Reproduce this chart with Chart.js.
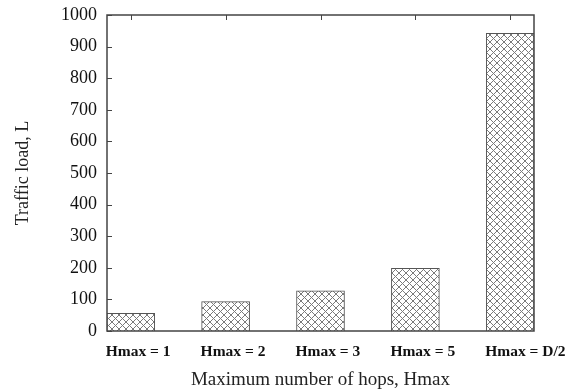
<!DOCTYPE html>
<html>
<head>
<meta charset="utf-8">
<script src="https://cdn.jsdelivr.net/npm/chart.js@4.4.0/dist/chart.umd.min.js"></script>
<style>
  html, body { margin: 0; padding: 0; background: #fff; }
  #wrap { width: 567px; height: 392px; }
</style>
</head>
<body>
<div id="wrap"><canvas id="loadChart"></canvas></div>
<script>
var hopLabels = ['Hmax = 1', 'Hmax = 2', 'Hmax = 3', 'Hmax = 5', 'Hmax = D/2'];
var trafficLoad = [56, 93, 127, 198, 942];
var yTicks = [0, 100, 200, 300, 400, 500, 600, 700, 800, 900, 1000];

var serif = '"Liberation Serif", "Times New Roman", serif';

function crossHatch() {
    var c = document.createElement('canvas');
    c.width = 7;
    c.height = 7;
    var g = c.getContext('2d');
    g.fillStyle = '#fff';
    g.fillRect(0, 0, 7, 7);
    g.strokeStyle = '#7a7a7a';
    g.lineWidth = 1;
    g.beginPath();
    g.moveTo(0, 0); g.lineTo(7, 7);
    g.moveTo(0, 7); g.lineTo(7, 0);
    g.moveTo(-1, 1); g.lineTo(1, -1);
    g.moveTo(6, 8); g.lineTo(8, 6);
    g.stroke();
    return g.createPattern(c, 'repeat');
}

// frame round the plot with small inward ticks, like the original
var frame = {
    id: 'frame',
    afterDraw: function (chart) {
        var ctx = chart.ctx;
        var a = chart.chartArea;
        var x = chart.scales.x, y = chart.scales.y;
        ctx.save();
        ctx.strokeStyle = '#444';
        ctx.lineWidth = 1.5;
        ctx.beginPath();
        ctx.rect(a.left, a.top, a.right - a.left, a.bottom - a.top);
        ctx.stroke();
        ctx.lineWidth = 1;
        ctx.beginPath();
        hopLabels.forEach(function (l, i) {
            var px = Math.round(x.getPixelForValue(i)) + 0.5;
            ctx.moveTo(px, a.top);
            ctx.lineTo(px, a.top + 5);
        });
        yTicks.forEach(function (v) {
            var py = Math.round(y.getPixelForValue(v)) + 0.5;
            ctx.moveTo(a.left, py);
            ctx.lineTo(a.left + 5, py);
        });
        ctx.stroke();
        ctx.restore();
    }
};

new Chart(document.getElementById('loadChart'), {
    type: 'bar',
    data: {
        datasets: [{
            data: trafficLoad.map(function (v, i) { return { x: i, y: v }; }),
            backgroundColor: crossHatch(),
            borderColor: '#555',
            borderWidth: 1,
            barThickness: 48
        }]
    },
    options: {
        responsive: true,
        maintainAspectRatio: false,
        animation: false,
        layout: { padding: { top: 15, right: 33, bottom: 0, left: 0 } },
        plugins: { legend: { display: false }, tooltip: { enabled: false } },
        scales: {
            x: {
                type: 'linear',
                min: -0.25,
                max: 4.25,
                offset: false,
                grid: { display: false },
                border: { display: false },
                afterBuildTicks: function (s) {
                    s.ticks = hopLabels.map(function (l, i) { return { value: i }; });
                },
                afterFit: function (s) {
                    s.height = 61;
                    s.paddingLeft = 0;
                    s.paddingRight = 0;
                },
                ticks: {
                    align: 'start',
                    labelOffset: -25,
                    padding: 4,
                    maxRotation: 0,
                    autoSkip: false,
                    color: '#111',
                    font: { family: serif, size: 15.5, weight: 'bold' },
                    callback: function (v) { return hopLabels[v]; }
                },
                title: {
                    display: true,
                    text: 'Maximum number of hops, Hmax',
                    color: '#222',
                    padding: { top: 0, bottom: 1 },
                    font: { family: serif, size: 19 }
                }
            },
            y: {
                min: 0,
                max: 1000,
                grid: { display: false, drawTicks: false },
                border: { display: false },
                afterBuildTicks: function (s) {
                    s.ticks = yTicks.map(function (v) { return { value: v }; });
                },
                afterFit: function (s) {
                    s.width = 107;
                    s.paddingTop = 0;
                    s.paddingBottom = 0;
                },
                ticks: {
                    padding: 10,
                    color: '#111',
                    font: { family: serif, size: 18 },
                    callback: function (v) { return String(v); }
                },
                title: {
                    display: true,
                    text: 'Traffic load, L',
                    color: '#222',
                    padding: { top: 12, bottom: 0 },
                    font: { family: serif, size: 18 }
                }
            }
        }
    },
    plugins: [frame]
});
</script>
</body>
</html>
